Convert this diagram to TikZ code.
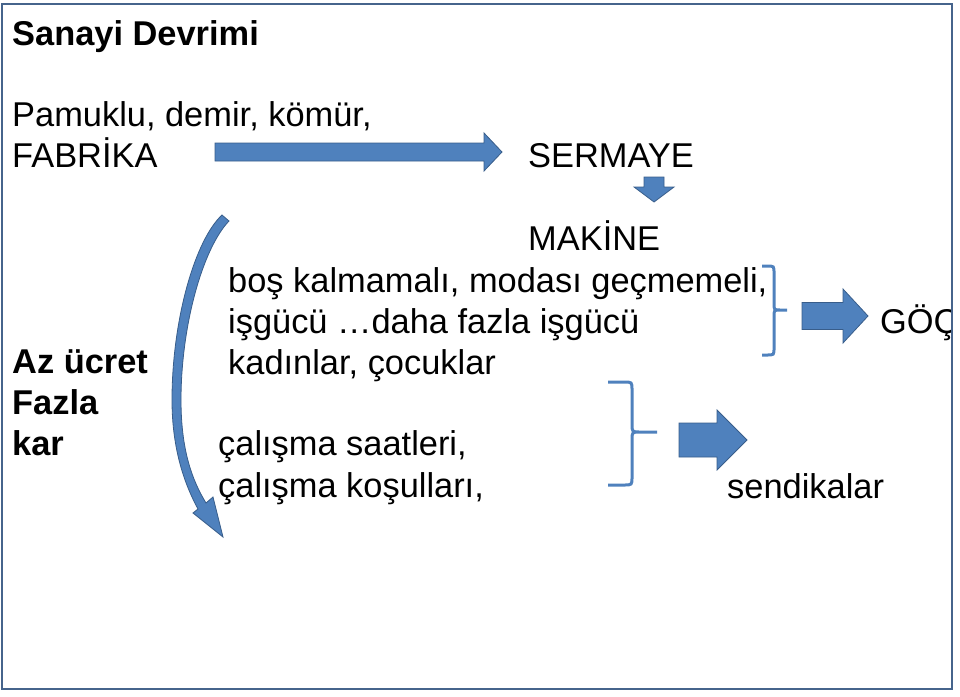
\documentclass[tikz,border=0pt]{standalone}
\usepackage{fontspec}
\setmainfont{Liberation Sans}
\usepackage{tikz}

\definecolor{arrowblue}{RGB}{79,129,189}
\definecolor{arrowedge}{RGB}{56,93,138}
\definecolor{frameblue}{RGB}{70,100,140}

\newcommand{\rightblock}[6]{\filldraw[blockarrow] (#1,#3-#4) -- (#2-#6,#3-#4) -- (#2-#6,#3-#5) -- (#2,#3)
    -- (#2-#6,#3+#5) -- (#2-#6,#3+#4) -- (#1,#3+#4) -- cycle;}

\begin{document}
\begin{tikzpicture}[x=1pt, y=-1pt,
    txt/.style = {anchor=base west, inner sep=0pt, font=\fontsize{34.4}{41}\selectfont},
    bold/.style = {txt, font=\fontsize{34.4}{41}\selectfont\bfseries},
    blockarrow/.style = {fill=arrowblue, draw=arrowedge, line width=0.8pt},
    brace/.style = {draw=arrowblue, line width=3pt}]
                \useasboundingbox (0,0) rectangle (960,696);
                \node[bold] (title) at (12,45) {Sanayi Devrimi};
                \node[txt] (raw) at (12,126) {Pamuklu, demir, kömür,};
                \node[txt] (fab) at (12,167) {FABRİKA};
                \node[txt] (capital) at (528,167) {SERMAYE};
                \node[txt] (machine) at (528,250) {MAKİNE};
                \node[txt] (idle) at (228,292) {boş kalmamalı, modası geçmemeli,};
                \node[txt] (labour) at (228,333) {işgücü …daha fazla işgücü};
                \node[txt] (women) at (228,374) {kadınlar, çocuklar};
                \node[bold] (wage) at (12,373) {Az ücret};
                \node[bold] (more) at (12,414) {Fazla};
                \node[bold] (profit) at (12,455) {kar};
                \node[txt] (hours) at (218,455) {çalışma saatleri,};
                \node[txt] (cond) at (218,497) {çalışma koşulları,};
                \node[txt] (union) at (727,498) {sendikalar};
                \begin{scope}
                    \clip (0,0) rectangle (951,696);
                    \node[txt] (migr) at (880,333) {GÖÇ};
                \end{scope}
                \rightblock{215}{502}{152}{9}{19}{18}
                \rightblock{802}{868}{316}{13.5}{27}{25}
                \rightblock{679}{747}{440}{17}{30}{30}
                \filldraw[blockarrow] (644,177) -- (664,177) -- (664,187) -- (674,187) -- (654,202)
                    -- (634,187) -- (644,187) -- cycle;
                \filldraw[blockarrow] (222,215) .. controls (195,240) and (172,320) .. (172,400)
                    .. controls (172,450) and (185,485) .. (198,509) -- (193,513) -- (223,537)
                    -- (213,497) -- (206,503) .. controls (192,480) and (181,450) .. (181,400)
                    .. controls (181,325) and (203,248) .. (229,221) -- cycle;
                \draw[brace] (762,266) -- (767,266) .. controls (774,266) .. (774,273) -- (774,303)
                    .. controls (774,310) .. (780,310) -- (787,310) -- (780,310)
                    .. controls (774,310) .. (774,317) -- (774,348) .. controls (774,355) .. (767,355) -- (762,355);
                \draw[brace] (608,382) -- (624,382) .. controls (632,382) .. (632,390) -- (632,424)
                    .. controls (632,432) .. (640,432) -- (657,432) -- (640,432)
                    .. controls (632,432) .. (632,440) -- (632,477) .. controls (632,485) .. (624,485) -- (608,485);
                \draw[frameblue, line width=2.5pt] (2,4) rectangle (952,689);
            \end{tikzpicture}
\end{document}
